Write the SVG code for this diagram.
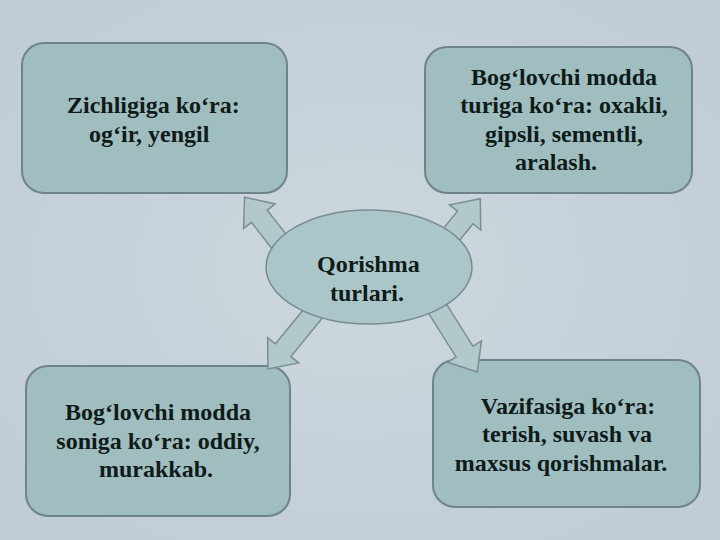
<svg xmlns="http://www.w3.org/2000/svg" width="720" height="540" viewBox="0 0 720 540">
<defs>
<style>
.box{fill:#a0bdc0;stroke:#6f8488;stroke-width:2}
.arr{fill:#b2c8cb;stroke:#7a8e92;stroke-width:1.5}
.ell{fill:#abc6c9;stroke:#788d91;stroke-width:1.5}
text{font-family:"Liberation Serif","Times New Roman",serif;font-weight:bold;font-size:24px;fill:#0e1b19}
.c{text-anchor:middle}
</style>
<radialGradient id="bg" cx="50%" cy="50%" r="70%">
<stop offset="0" stop-color="#ccd7dd"/>
<stop offset="1" stop-color="#c0ccd5"/>
</radialGradient>
</defs>
<rect width="720" height="540" fill="url(#bg)"/>
<g id="node-tl"><rect class="box" x="22" y="43" width="265" height="150" rx="22"/>
<text x="67" y="113">Zichligiga ko‘ra:</text><text x="89" y="142">og‘ir, yengil</text></g>
<g id="node-tr"><rect class="box" x="425" y="47" width="267" height="146" rx="22"/>
<text class="c" x="564" y="85">Bog‘lovchi modda</text><text class="c" x="564" y="113">turiga ko‘ra: oxakli,</text><text class="c" x="564" y="142">gipsli, sementli,</text><text class="c" x="556" y="170">aralash.</text></g>
<g id="node-bl"><rect class="box" x="26" y="366" width="264" height="150" rx="22"/>
<text class="c" x="158" y="420">Bog‘lovchi modda</text><text class="c" x="158" y="449">soniga ko‘ra: oddiy,</text><text class="c" x="156" y="477">murakkab.</text></g>
<g id="node-br"><rect class="box" x="433" y="360" width="267" height="147" rx="22"/>
<text class="c" x="568" y="414">Vazifasiga ko‘ra:</text><text class="c" x="567" y="442">terish, suvash va</text><text class="c" x="561" y="471">maxsus qorishmalar.</text></g>
<g id="connectors">
<path class="arr" transform="translate(295,262) rotate(-127.9)" d="M0,-10 H58 V-20 L82,0 L58,20 V10 H0 Z"/>
<path class="arr" transform="translate(430,261) rotate(-51.1)" d="M0,-10 H56 V-20 L80,0 L56,20 V10 H0 Z"/>
<path class="arr" transform="translate(316,310) rotate(129.2)" d="M0,-10 H52 V-20 L76,0 L52,20 V10 H0 Z"/>
<path class="arr" transform="translate(432,300) rotate(57.8)" d="M0,-10 H61 V-20 L85,0 L61,20 V10 H0 Z"/>
</g>
<g id="node-center"><ellipse class="ell" cx="369" cy="267" rx="103" ry="57"/>
<text x="317" y="272">Qorishma</text><text x="330" y="301">turlari.</text></g>
</svg>
